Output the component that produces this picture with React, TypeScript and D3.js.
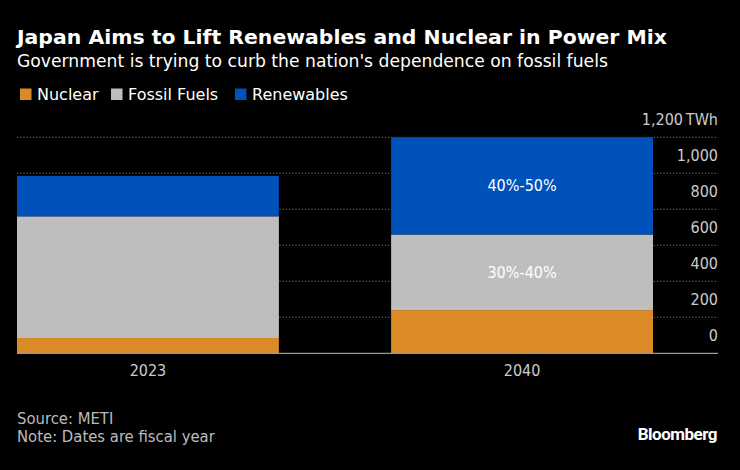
import React from "react";
import * as d3 from "d3";

const categories = ["2023", "2040"];
const seriesNames = ["Nuclear", "Fossil Fuels", "Renewables"];
const nuclear = [85, 240];
const fossil = [676, 420];
const renewables = [224, 540];
const yTicks = [0, 200, 400, 600, 800, 1000, 1200];
const segmentLabels: (string | null)[][] = [
  [null, null],
  [null, "30%-40%"],
  [null, "40%-50%"],
];
const colors = ["#DA8A27", "#BEBEBE", "#0051BA"];
const legendX = [20, 111, 235];

const W = 740;
const H = 470;

export default function App() {
  const y = d3.scaleLinear().domain([0, 1200]).range([353.3, 137.3]);
  const x = d3.scaleBand<string>().domain(categories).range([17, 653]).paddingInner(0.3).paddingOuter(0);
  const rows = categories.map((c, i) => ({ cat: c, Nuclear: nuclear[i], "Fossil Fuels": fossil[i], Renewables: renewables[i] }));
  const stack = d3.stack<any>().keys(seriesNames)(rows);
  const sans = "'DejaVu Sans', sans-serif";
  const cond: React.CSSProperties = { fontFamily: "'DejaVu Sans', sans-serif", fontStretch: "condensed" };
  const fmt = d3.format(",");

  return (
    <svg width={W} height={H} style={{ position: "absolute", left: 0, top: 0, background: "#000" }}>
      <rect x={0} y={0} width={W} height={H} fill="#000" />
      <text x={17} y={44} fill="#fff" fontFamily={sans} fontWeight={700} fontSize={19.8} textLength={650} lengthAdjust="spacingAndGlyphs">
        Japan Aims to Lift Renewables and Nuclear in Power Mix
      </text>
      <text x={17} y={67} fill="#fff" fontFamily={sans} fontSize={17.2}>
        Government is trying to curb the nation's dependence on fossil fuels
      </text>
      {seriesNames.map((n, i) => (
        <g key={n}>
          <rect x={legendX[i]} y={88.5} width={11.5} height={11.5} fill={colors[i]} />
          <text x={legendX[i] + 17} y={100} fill="#fff" fontFamily={sans} fontSize={16}>
            {n}
          </text>
        </g>
      ))}
      {yTicks.map((t) => (
        <g key={t}>
          {t > 0 && (
            <line x1={17} x2={718} y1={y(t)} y2={y(t)} stroke="#777" strokeWidth={1} strokeDasharray="1.2,2" />
          )}
          {t < 1200 && (
            <text x={718} y={y(t) - 12} textAnchor="end" fill="#ccc" style={cond} fontSize={16}>
              {fmt(t)}
            </text>
          )}
        </g>
      ))}
      <text x={683} y={y(1200) - 12} textAnchor="end" fill="#ccc" style={cond} fontSize={16}>
        {fmt(1200)}
      </text>
      <text x={718} y={y(1200) - 12} textAnchor="end" fill="#ccc" style={cond} fontSize={16}>
        TWh
      </text>
      {stack.map((s, si) => (
        <g key={s.key}>
          {s.map((d, ci) => (
            <rect
              key={ci}
              x={x(categories[ci])}
              width={x.bandwidth()}
              y={y(d[1])}
              height={y(d[0]) - y(d[1])}
              fill={colors[si]}
            />
          ))}
          {s.map((d, ci) =>
            segmentLabels[si][ci] ? (
              <text
                key={"l" + ci}
                x={(x(categories[ci]) as number) + x.bandwidth() / 2}
                y={(y(d[0]) + y(d[1])) / 2 + 5.5}
                textAnchor="middle"
                fill="#fff"
                style={cond}
                fontSize={16}
              >
                {segmentLabels[si][ci]}
              </text>
            ) : null
          )}
        </g>
      ))}
      <line x1={17} x2={718} y1={y(0)} y2={y(0)} stroke="#999" strokeWidth={1.2} />
      {categories.map((c) => (
        <text
          key={c}
          x={(x(c) as number) + x.bandwidth() / 2}
          y={375.5}
          textAnchor="middle"
          fill="#ccc"
          style={cond}
          fontSize={16}
        >
          {c}
        </text>
      ))}
      <text x={17} y={424} fill="#bbb" style={cond} fontSize={16.5}>
        Source: METI
      </text>
      <text x={17} y={442} fill="#bbb" style={cond} fontSize={16.5}>
        Note: Dates are fiscal year
      </text>
      <text x={717} y={440} textAnchor="end" fill="#fff" fontFamily="Roboto, sans-serif" fontWeight={700} fontSize={17} letterSpacing={-0.5}>
        Bloomberg
      </text>
    </svg>
  );
}
